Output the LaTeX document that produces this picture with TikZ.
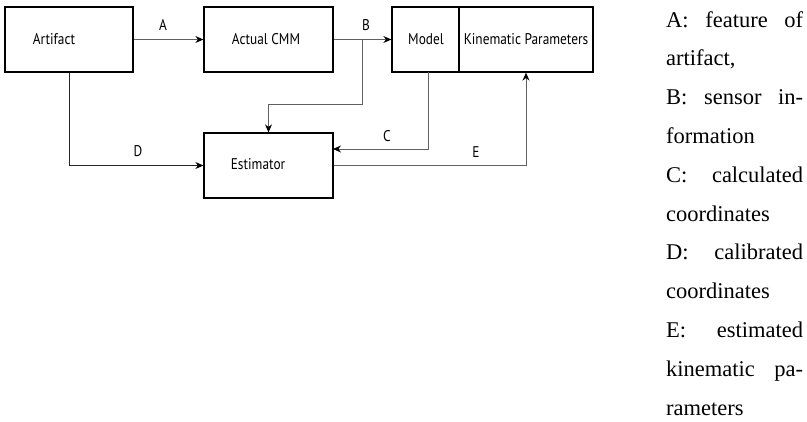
\documentclass[tikz,border=0pt]{standalone}
\usepackage{fontspec}
\setmainfont{Liberation Serif}
\newfontfamily\diagfont{PT Sans}
\usetikzlibrary{arrows.meta,calc}
% condensed sans text for the block diagram
\newcommand\condtxt[1]{\scalebox{0.86}[1]{#1}}
\begin{document}
\begin{tikzpicture}[x=1pt,y=-1pt,
  blk/.style={draw=black,line width=1.3pt,minimum height=65pt,inner sep=0pt},
  flow/.style={draw=black!62,line width=1pt,-{Stealth[length=8pt,width=7pt,black]}},
  tag/.style={font=\diagfont\fontsize{15.5}{17}\selectfont,inner sep=0pt},
  legend/.style={anchor=base west,inner sep=0pt,font=\fontsize{22.5}{26}\selectfont}]
\useasboundingbox (0,0) rectangle (807,421);

% blocks
\node[blk,minimum width=128pt] (art) at (69,39.5) {};
\node[tag] (artlbl) at (54,39.5) {\condtxt{Artifact}};
\node[blk,minimum width=129pt] (cmm) at (268.5,39.5) {};
\node[tag] (cmmlbl) at (266,39.5) {\condtxt{Actual CMM}};
\node[blk,minimum width=67pt] (model) at (425.5,39.5) {};
\node[tag] (modellbl) at (426,39.5) {\condtxt{Model}};
\node[blk,minimum width=134pt] (kin) at (526,39.5) {};
\node[tag] (kinlbl) at (526,39.5) {\condtxt{Kinematic Parameters}};
\node[blk,minimum width=129pt] (est) at (268.5,165.5) {};
\node[tag] (estlbl) at (258,164.5) {\condtxt{Estimator}};

% junctions
\coordinate (bsplit) at (362,39.5);
\coordinate (bdown) at (362,104);
\coordinate (mdown) at (428,72);
\coordinate (cturn) at (428,149);
\coordinate (cin) at (333,149);

% connectors
\draw[flow] (art.east) -- (cmm.west);
\draw[flow] (cmm.east) -- (model.west);
\draw[flow] (bsplit) -- (bdown) -| (est.north);
\draw[flow,draw=black!85] (art.south) |- (est.west);
\draw[flow] (mdown) -- (cturn) -- (cin);
\draw[flow] (est.east) -| (kin.south);

% connector labels
\node[tag] (la) at (163,25) {\condtxt{A}};
\node[tag] (lb) at (366,25) {\condtxt{B}};
\node[tag] (lc) at (387,136) {\condtxt{C}};
\node[tag] (ld) at (138,151) {\condtxt{D}};
\node[tag] (le) at (476,152) {\condtxt{E}};

% legend
\node[legend] (l1) at (666,27) {\makebox[137pt][s]{A: feature of}};
\node[legend] (l2) at (666,65.8) {artifact,};
\node[legend] (l3) at (666,104.6) {\makebox[137pt][s]{B: sensor in-}};
\node[legend] (l4) at (666,143.4) {formation};
\node[legend] (l5) at (666,182.2) {\makebox[137pt][s]{C: calculated}};
\node[legend] (l6) at (666,221) {coordinates};
\node[legend] (l7) at (666,259.8) {\makebox[137pt][s]{D: calibrated}};
\node[legend] (l8) at (666,298.6) {coordinates};
\node[legend] (l9) at (666,337.4) {\makebox[137pt][s]{E: estimated}};
\node[legend] (l10) at (666,376.2) {\makebox[137pt][s]{kinematic pa-}};
\node[legend] (l11) at (666,415) {rameters};
\end{tikzpicture}
\end{document}
